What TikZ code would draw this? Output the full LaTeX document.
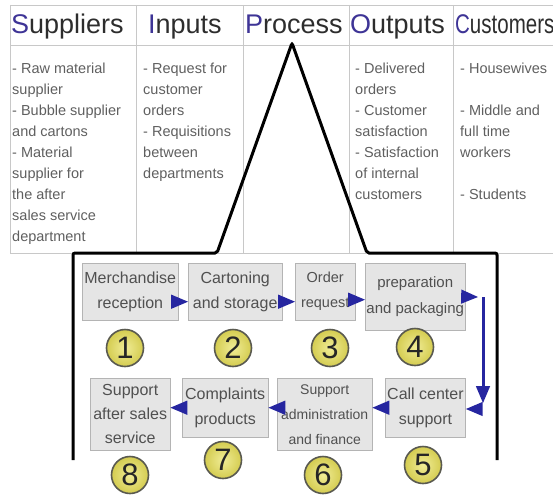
\documentclass[tikz,border=0pt]{standalone}
\usepackage{fontspec}
\setmainfont{Liberation Sans}
\usepackage{tikz}
\usetikzlibrary{arrows}
\usetikzlibrary{shapes}

\definecolor{initial}{RGB}{62,52,150}
\definecolor{headgray}{RGB}{45,45,45}
\definecolor{cellgray}{RGB}{95,95,95}
\definecolor{gridgray}{RGB}{200,200,200}
\definecolor{boxfill}{RGB}{229,229,229}
\definecolor{boxline}{RGB}{180,180,180}
\definecolor{boxtext}{RGB}{80,80,80}
\definecolor{flowblue}{RGB}{38,38,160}
\definecolor{numin}{RGB}{240,236,150}
\definecolor{numout}{RGB}{212,204,80}
\definecolor{numline}{RGB}{90,90,80}

\newcommand{\first}[1]{\textcolor{initial}{#1}}

\begin{document}
\begin{tikzpicture}[x=1pt,y=-1pt,every node/.style={inner sep=2pt},
		head/.style={anchor=base west, inner sep=0pt, text=headgray, font=\fontsize{27}{27}\selectfont},
		cell/.style={anchor=north west, align=left, text=cellgray, font=\fontsize{14.5}{21}\selectfont},
		stage/.style={draw=boxline, fill=boxfill, anchor=north west, align=center, text=boxtext, font=\fontsize{16}{25}\selectfont},
		num/.style={circle, draw=numline, line width=1.6pt, inner color=numin, outer color=numout, minimum size=37pt, inner sep=0pt, text=black!85, font=\fontsize{31}{31}\selectfont},
		flow/.style={-triangle 45, line width=3pt, draw=flowblue},
		grid/.style={draw=gridgray, line width=0.8pt}]

\useasboundingbox (0,0) rectangle (553,495);

% SIPOC table
\draw[grid] (10,5) -- (553,5);
\draw[grid] (10,45) -- (553,45);
\draw[grid] (10,253) -- (553,253);
\foreach \x in {10,136,243,349,453}
	\draw[grid] (\x,5) -- (\x,253);

\node[head] (suppliers) at (11,34) {\first{S}uppliers};
\node[head] (inputs) at (148,34) {\first{I}nputs};
\node[head] (process) at (245,34) {\first{P}rocess};
\node[head] (outputs) at (350,34) {\first{O}utputs};
\node[head, xscale=0.76] (customers) at (455,34) {\first{C}ustomers};

\node[cell] (supplierlist) at (10,61) {- Raw material\\supplier\\- Bubble supplier\\and cartons\\- Material\\supplier for\\the after\\sales service\\department};
\node[cell] (inputlist) at (141,61) {- Request for\\customer\\orders\\- Requisitions\\between\\departments};
\node[cell] (outputlist) at (353,61) {- Delivered\\orders\\- Customer\\satisfaction\\- Satisfaction\\of internal\\customers};
\node[cell] (customerlist) at (458,61) {- Housewives\\[21pt]- Middle and\\full time\\workers\\[21pt]- Students};

% process outline
\draw[line width=3pt, rounded corners=2pt] (73,460) -- (73,253) -- (217,253) -- (292,43) -- (367,253) -- (497,253) -- (497,460);

% stages
\node[stage, minimum width=96pt, minimum height=57pt] (b1) at (82,263) {Merchandise\\reception};
\node[stage, minimum width=94pt, minimum height=57pt] (b2) at (188,263) {Cartoning\\and storage};
\node[stage, minimum width=60pt, minimum height=57pt, inner sep=0pt, font=\fontsize{14.5}{25}\selectfont] (b3) at (295,263) {Order\\request};
\node[stage, minimum width=100pt, minimum height=67pt, inner sep=0pt, font=\fontsize{15}{26}\selectfont] (b4) at (365,263) {preparation\\and packaging};
\node[stage, minimum width=80pt, minimum height=59pt] (b5) at (385,378) {Call center\\support};
\node[stage, minimum width=95pt, minimum height=72pt, inner sep=0pt, font=\fontsize{14}{25}\selectfont] (b6) at (277,378) {Support\\administration\\and finance};
\node[stage, minimum width=86pt, minimum height=59pt, inner sep=0pt] (b7) at (182,378) {Complaints\\products};
\node[stage, minimum width=80pt, minimum height=72pt, inner sep=0pt, font=\fontsize{16}{24}\selectfont] (b8) at (90,378) {Support\\after sales\\service};

\node[num] (n1) at (125,348) {1};
\node[num] (n2) at (233,348) {2};
\node[num] (n3) at (330,348) {3};
\node[num] (n4) at (415,347) {4};
\node[num] (n5) at (423,465) {5};
\node[num] (n6) at (323,475) {6};
\node[num] (n7) at (223,460) {7};
\node[num] (n8) at (130,475) {8};

% flow between stages
\coordinate (turn) at (483,297);
\coordinate (down) at (483,403);
\coordinate (back) at (481,409);

\draw[flow] ([yshift=-10pt]b1.east) -- ([yshift=-10pt]b1.east -| b2.west);
\draw[flow] ([yshift=-10pt]b2.east) -- ([yshift=-10pt]b2.east -| b3.west);
\draw[flow] ([yshift=-8pt]b3.east) -- ([yshift=-8pt]b3.east -| b4.west);
\draw[flow] (b4.east) -- ([xshift=-5pt]turn);
\draw[flow] (turn) -- (down);
\draw[flow] (back) -- (back -| b5.east);
\draw[flow] (b5.west) -- (b5.west -| b6.east);
\draw[flow] (b7.east -| b6.west) -- (b7.east);
\draw[flow] (b7.west) -- (b7.west -| b8.east);

\end{tikzpicture}
\end{document}
